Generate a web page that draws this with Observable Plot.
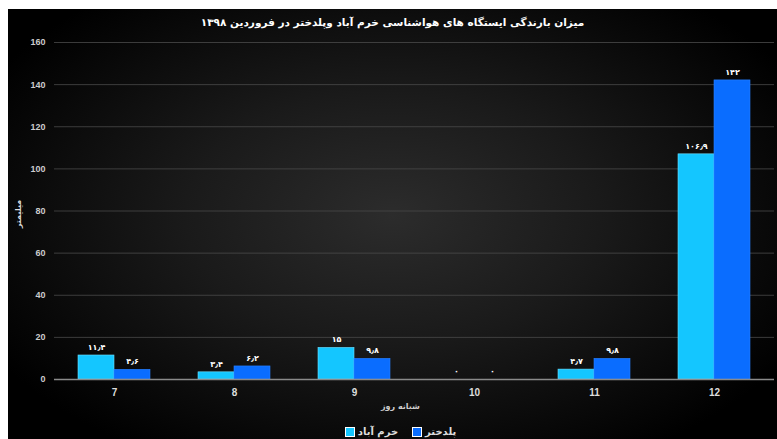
<!DOCTYPE html>
<html>
<head>
<meta charset="utf-8">
<script src="https://cdn.jsdelivr.net/npm/d3@7"></script>
<script src="https://cdn.jsdelivr.net/npm/@observablehq/plot@0.6"></script>
<style>
  html, body { margin: 0; padding: 0; background: #fff; }
  #box {
    position: absolute; left: 8px; top: 9px; width: 769px; height: 430px;
    background: radial-gradient(ellipse 60% 65% at 50% 48%, #2c2c2c 0%, #1a1a1a 45%, #000 100%);
    overflow: hidden;
  }
  #title {
    position: absolute; left: 0; width: 769px; top: 7px; text-align: center;
    font-family: "DejaVu Sans", sans-serif; font-weight: bold; font-size: 10.5px; color: #fff;
    direction: rtl; letter-spacing: 0.4px;
  }
  #chart { position: absolute; left: 0; top: 21px; }
  #ylab {
    position: absolute; left: 10px; top: 205px; transform: translate(-50%, -50%) rotate(-90deg);
    font-family: "DejaVu Sans", sans-serif; font-weight: bold; font-size: 8px; color: #ddd; white-space: nowrap;
  }
  #xlab {
    position: absolute; left: 0; width: 785px; top: 393px; text-align: center;
    font-family: "DejaVu Sans", sans-serif; font-weight: bold; font-size: 8px; color: #ccc; direction: rtl;
  }
  #legend {
    position: absolute; left: 0; width: 785px; top: 417px; display: flex; justify-content: center; gap: 14px;
    font-family: "DejaVu Sans", sans-serif; font-weight: bold; font-size: 10px; color: #ddd;
  }
  #legend span.item { display: flex; align-items: center; gap: 3px; }
  #legend i { display: inline-block; width: 8px; height: 8px; border: 1px solid #fff; }
</style>
</head>
<body>
<div id="box">
  <div id="title">میزان بارندگی ایستگاه های هواشناسی خرم آباد وپلدختر در فروردین ۱۳۹۸</div>
  <div id="chart"></div>
  <div id="ylab">میلیمتر</div>
  <div id="xlab">شبانه روز</div>
  <div id="legend"></div>
</div>
<script>
const days = ["7", "8", "9", "10", "11", "12"];
const stations = ["خرم آباد", "پلدختر"];
const khorramabad = [11.4, 3.4, 15, 0, 4.7, 106.9];
const poldokhtar = [4.6, 6.2, 9.8, 0, 9.8, 142];
const colors = ["#14C6FF", "#0A6DFF"];
const yTicks = [0, 20, 40, 60, 80, 100, 120, 140, 160];

const faDigits = "۰۱۲۳۴۵۶۷۸۹";
const toFa = v => String(v).replace(/[0-9]/g, d => faDigits[+d]).replace(".", "٫");

const data = [];
days.forEach((d, i) => {
  data.push({day: d, station: stations[0], value: khorramabad[i]});
  data.push({day: d, station: stations[1], value: poldokhtar[i]});
});

const chart = Plot.plot({
  width: 769,
  height: 388,
  marginTop: 12,
  marginBottom: 39,
  marginLeft: 44,
  marginRight: 1,
  style: {background: "transparent", color: "#ccc", fontFamily: "Liberation Sans, Arial, sans-serif", fontWeight: "bold", fontSize: "9px"},
  fx: {domain: days, padding: 0, label: null},
  x: {domain: stations, paddingInner: 0, paddingOuter: 0.63, axis: null},
  y: {domain: [0, 160], ticks: yTicks, label: null},
  color: {domain: stations, range: colors},
  marks: [
    Plot.gridY(yTicks, {stroke: "#4a4a4a", strokeOpacity: 0.8}),
    Plot.axisY({ticks: yTicks, tickSize: 0, tickPadding: 9, label: null, fontSize: 9}),
    Plot.axisFx({anchor: "bottom", tickSize: 0, tickPadding: 9, label: null, fontSize: 10, fill: "#ddd"}),
    Plot.barY(data, {fx: "day", x: "station", y: "value", fill: "station", stroke: d => d.station === stations[0] ? "#6fe0ff" : "#2a80ff", strokeWidth: 0.6}),
    Plot.ruleY([0], {stroke: "#8a8a8a", strokeWidth: 1.5}),
    Plot.text(data, {fx: "day", x: "station", y: "value", text: d => toFa(d.value), dy: -8, fill: "#fff", fontSize: 8, fontFamily: "DejaVu Sans, sans-serif", fontWeight: "bold"})
  ]
});
document.getElementById("chart").appendChild(chart);

const legend = document.getElementById("legend");
stations.forEach((s, i) => {
  const item = document.createElement("span");
  item.className = "item";
  const sw = document.createElement("i");
  sw.style.background = colors[i];
  const t = document.createElement("span");
  t.textContent = s;
  item.appendChild(sw);
  item.appendChild(t);
  legend.appendChild(item);
});
</script>
</body>
</html>
